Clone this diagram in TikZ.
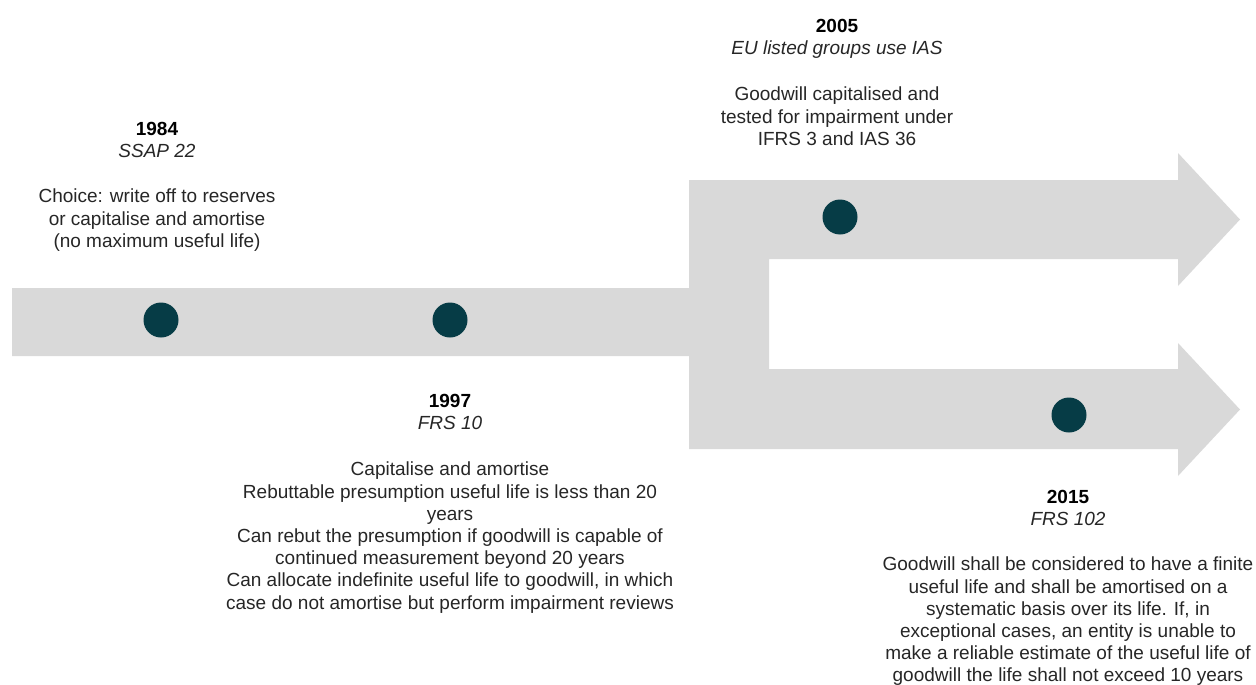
\documentclass[tikz,border=0pt]{standalone}
\usepackage{fontspec}
\setmainfont{Liberation Sans}
\definecolor{bargray}{HTML}{D9D9D9}
\definecolor{dotteal}{RGB}{6,60,70}
\definecolor{txt}{HTML}{262626}
\begin{document}
\begin{tikzpicture}[x=1pt,y=-1pt,
  milestone/.style={circle,fill=dotteal,draw=none,minimum size=35pt,inner sep=0pt},
  info/.style={anchor=north,align=center,inner sep=0pt,text=txt,
    font={\fontsize{19}{22.2}\selectfont}}]
\useasboundingbox (0,0) rectangle (1256,685);
% timeline band with two branching arrows
\fill[bargray] (12,288) -- (689,288) -- (689,180) -- (1178,180) -- (1178,153)
  -- (1240,219.5) -- (1178,286) -- (1178,259) -- (769,259) -- (769,369)
  -- (1178,369) -- (1178,343) -- (1240,409.5) -- (1178,476) -- (1178,449)
  -- (689,449) -- (689,356) -- (12,356) -- cycle;
% milestones
\node[milestone] (d1984) at (161,320) {};
\node[milestone] (d1997) at (450,320) {};
\node[milestone] (d2005) at (840,217) {};
\node[milestone] (d2015) at (1069,415) {};
% texts
\node[info] (t1984) at (157,122) {\textbf{\color{black}1984}\\\textit{SSAP 22}\\[23pt]
  Choice: write off to reserves\\or capitalise and amortise\\(no maximum useful life)};
\node[info] (t2005) at (837,19) {\textbf{\color{black}2005}\\\textit{EU listed groups use IAS}\\[24pt]
  Goodwill capitalised and\\tested for impairment under\\IFRS 3 and IAS 36};
\node[info] (t1997) at (450,394) {\textbf{\color{black}1997}\\\textit{FRS 10}\\[24pt]
  Capitalise and amortise\\Rebuttable presumption useful life is less than 20\\years\\
  Can rebut the presumption if goodwill is capable of\\continued measurement beyond 20 years\\
  Can allocate indefinite useful life to goodwill, in which\\case do not amortise but perform impairment reviews};
\node[info] (t2015) at (1068,490) {\textbf{\color{black}2015}\\\textit{FRS 102}\\[23pt]
  Goodwill shall be considered to have a finite\\useful life and shall be amortised on a\\
  systematic basis over its life. If, in\\exceptional cases, an entity is unable to\\
  make a reliable estimate of the useful life of\\goodwill the life shall not exceed 10 years};
\end{tikzpicture}
\end{document}
